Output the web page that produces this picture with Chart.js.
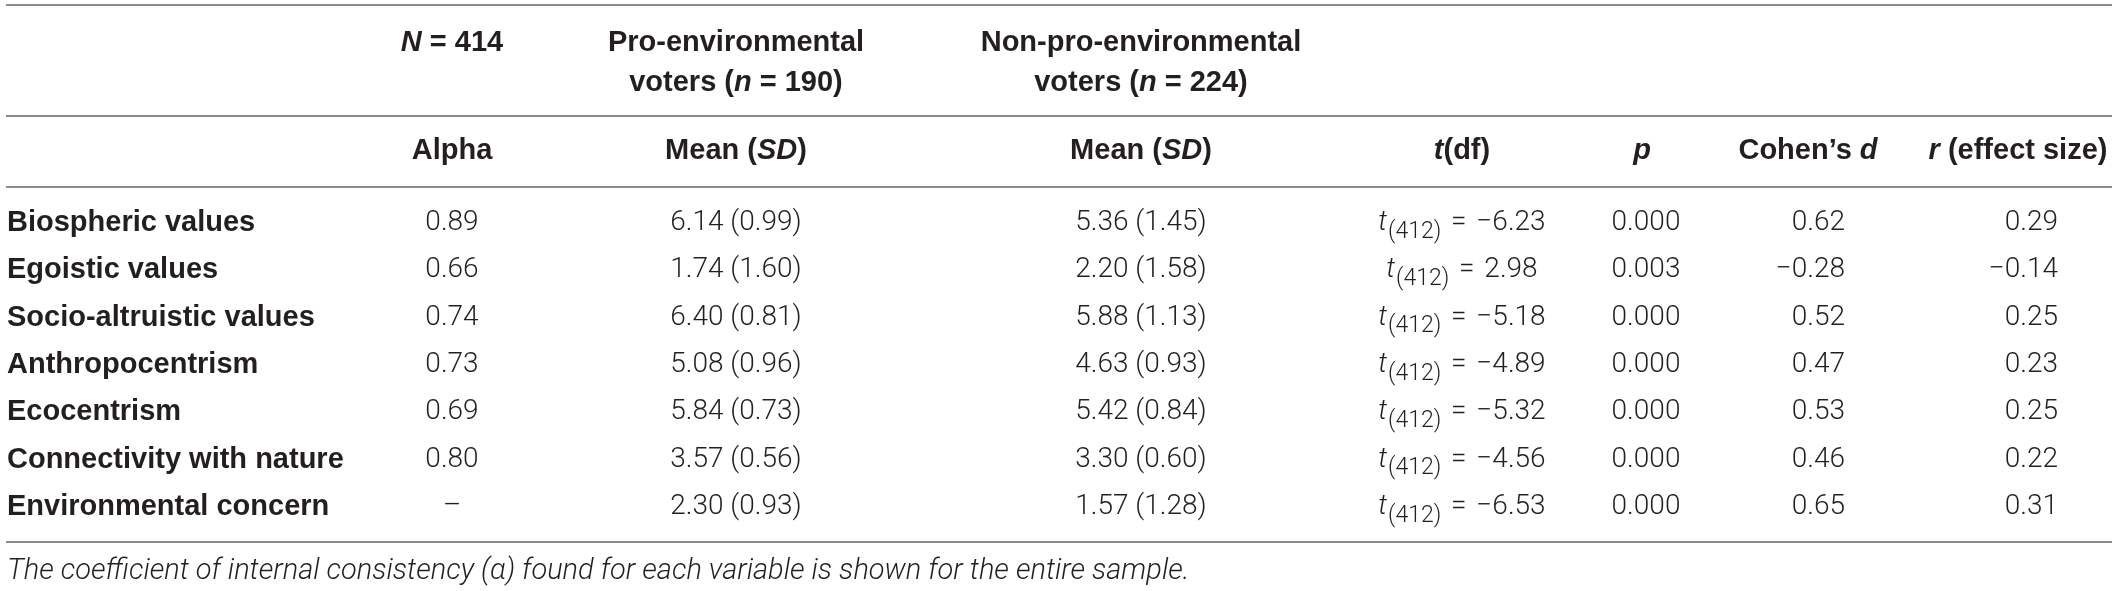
<!DOCTYPE html>
<html>
<head>
<meta charset="utf-8">
<script src="https://cdn.jsdelivr.net/npm/chart.js@4"></script>
<style>
  html, body { margin: 0; padding: 0; background: #ffffff; }
  #wrap { width: 2121px; height: 591px; }
</style>
</head>
<body>
<div id="wrap"><canvas id="c" width="2121" height="591"></canvas></div>
<script>
// ---------------- DATA ----------------
const variables = [
  "Biospheric values",
  "Egoistic values",
  "Socio-altruistic values",
  "Anthropocentrism",
  "Ecocentrism",
  "Connectivity with nature",
  "Environmental concern"
];
const alpha   = [0.89, 0.66, 0.74, 0.73, 0.69, 0.80, null];
const proMean = [6.14, 1.74, 6.40, 5.08, 5.84, 3.57, 2.30];
const proSD   = [0.99, 1.60, 0.81, 0.96, 0.73, 0.56, 0.93];
const nonMean = [5.36, 2.20, 5.88, 4.63, 5.42, 3.30, 1.57];
const nonSD   = [1.45, 1.58, 1.13, 0.93, 0.84, 0.60, 1.28];
const tValue  = [-6.23, 2.98, -5.18, -4.89, -5.32, -4.56, -6.53];
const tDf     = [412, 412, 412, 412, 412, 412, 412];
const pValue  = [0.000, 0.003, 0.000, 0.000, 0.000, 0.000, 0.000];
const cohenD  = [0.62, -0.28, 0.52, 0.47, 0.53, 0.46, 0.65];
const rEffect = [0.29, -0.14, 0.25, 0.23, 0.25, 0.22, 0.31];
const sampleN = 414, proN = 190, nonN = 224;
const footnote = "The coefficient of internal consistency (\u03b1) found for each variable is shown for the entire sample.";

// ---------------- LAYOUT (scale units) ----------------
const colPos = { label: 7, alpha: 452, pro: 736, non: 1141, t: 1462, p: 1646, d: 1845, r: 2058 };
const headPos = { d: 1808, r: 2018, p: 1642 };
const rowPos = { head1a: -3.80, head1b: -2.95, head2: -1.52, foot: 7.37 };
const rulePos = [-4.61, -2.26, -0.76, 6.74];
const ruleX = [6, 2112];

// ---------------- STYLE ----------------
const INK = '#231f20';
const RULE = '#8c8c8c';
const FB  = 'bold 29px "Liberation Sans", Arial, sans-serif';
const FBI = 'italic bold 29px "Liberation Sans", Arial, sans-serif';
const FL  = '300 28px Roboto, "Liberation Sans", sans-serif';
const FLI = 'italic 300 28px Roboto, "Liberation Sans", sans-serif';
const FFOOT = 'italic 300 29px Roboto, "Liberation Sans", sans-serif';
const FSUB = '300 23px Roboto, "Liberation Sans", sans-serif';

const fmt = (v, n) => (v < 0 ? '\u2212' : '') + Math.abs(v).toFixed(n);

function rich(ctx, segs, x, y, align) {
  let w = 0;
  segs.forEach(s => { ctx.font = s.f; s.w = ctx.measureText(s.t).width + (s.gap || 0); w += s.w; });
  let sx = align === 'center' ? x - w / 2 : (align === 'right' ? x - w : x);
  segs.forEach(s => { ctx.font = s.f; ctx.fillText(s.t, sx + (s.pre || 0), y + (s.dy || 0)); sx += s.w; });
}

const cols = ['label', 'alpha', 'pro', 'non', 't', 'p', 'd', 'r'];
const datasets = cols.map(c => ({
  label: c,
  data: variables.map((_, i) => ({ x: colPos[c], y: i })),
  pointRadius: 0,
  pointHoverRadius: 0,
  showLine: false
}));

function cellSegs(c, i) {
  switch (c) {
    case 'label': return [{ t: variables[i], f: FB }];
    case 'alpha': return [{ t: alpha[i] === null ? '\u2013' : fmt(alpha[i], 2), f: FL }];
    case 'pro': return [{ t: fmt(proMean[i], 2) + ' (' + fmt(proSD[i], 2) + ')', f: FL }];
    case 'non': return [{ t: fmt(nonMean[i], 2) + ' (' + fmt(nonSD[i], 2) + ')', f: FL }];
    case 't': return [
      { t: 't', f: FLI, gap: 1 },
      { t: '(' + tDf[i] + ')', f: FSUB, dy: 9 },
      { t: ' = ', f: FL, gap: 6, pre: 3 },
      { t: fmt(tValue[i], 2), f: FL }
    ];
    case 'p': return [{ t: fmt(pValue[i], 3), f: FL }];
    case 'd': return [{ t: fmt(cohenD[i], 2), f: FL }];
    case 'r': return [{ t: fmt(rEffect[i], 2), f: FL }];
  }
}
const colAlign = { label: 'left', alpha: 'center', pro: 'center', non: 'center', t: 'center', p: 'center', d: 'right', r: 'right' };

const tablePlugin = {
  id: 'table',
  afterDatasetsDraw(chart) {
    const ctx = chart.ctx;
    const xs = chart.scales.x, ys = chart.scales.y;
    ctx.save();
    // rules
    ctx.strokeStyle = RULE;
    ctx.lineWidth = 2;
    rulePos.forEach(r => {
      const y = Math.round(ys.getPixelForValue(r));
      ctx.beginPath();
      ctx.moveTo(xs.getPixelForValue(ruleX[0]), y);
      ctx.lineTo(xs.getPixelForValue(ruleX[1]), y);
      ctx.stroke();
    });
    ctx.fillStyle = INK;
    ctx.textBaseline = 'middle';
    ctx.textAlign = 'left';
    // header row 1
    const h1a = ys.getPixelForValue(rowPos.head1a), h1b = ys.getPixelForValue(rowPos.head1b);
    rich(ctx, [{ t: 'N', f: FBI }, { t: ' = ' + sampleN, f: FB }], xs.getPixelForValue(colPos.alpha), h1a, 'center');
    rich(ctx, [{ t: 'Pro-environmental', f: FB }], xs.getPixelForValue(colPos.pro), h1a, 'center');
    rich(ctx, [{ t: 'voters (', f: FB }, { t: 'n', f: FBI }, { t: ' = ' + proN + ')', f: FB }], xs.getPixelForValue(colPos.pro), h1b, 'center');
    rich(ctx, [{ t: 'Non-pro-environmental', f: FB }], xs.getPixelForValue(colPos.non), h1a, 'center');
    rich(ctx, [{ t: 'voters (', f: FB }, { t: 'n', f: FBI }, { t: ' = ' + nonN + ')', f: FB }], xs.getPixelForValue(colPos.non), h1b, 'center');
    // header row 2
    const h2 = ys.getPixelForValue(rowPos.head2);
    rich(ctx, [{ t: 'Alpha', f: FB }], xs.getPixelForValue(colPos.alpha), h2, 'center');
    const meanSD = () => [{ t: 'Mean (', f: FB }, { t: 'SD', f: FBI }, { t: ')', f: FB }];
    rich(ctx, meanSD(), xs.getPixelForValue(colPos.pro), h2, 'center');
    rich(ctx, meanSD(), xs.getPixelForValue(colPos.non), h2, 'center');
    rich(ctx, [{ t: 't', f: FBI }, { t: '(df)', f: FB }], xs.getPixelForValue(colPos.t), h2, 'center');
    rich(ctx, [{ t: 'p', f: FBI }], xs.getPixelForValue(headPos.p), h2, 'center');
    rich(ctx, [{ t: 'Cohen\u2019s ', f: FB }, { t: 'd', f: FBI }], xs.getPixelForValue(headPos.d), h2, 'center');
    rich(ctx, [{ t: 'r', f: FBI }, { t: ' (effect size)', f: FB }], xs.getPixelForValue(headPos.r), h2, 'center');
    // body cells from dataset elements
    chart.data.datasets.forEach((ds, di) => {
      const c = ds.label;
      chart.getDatasetMeta(di).data.forEach((el, i) => {
        rich(ctx, cellSegs(c, i), el.x, el.y, colAlign[c]);
      });
    });
    // footnote
    rich(ctx, [{ t: footnote, f: FFOOT }], xs.getPixelForValue(colPos.label), ys.getPixelForValue(rowPos.foot), 'left');
    ctx.restore();
  }
};

new Chart(document.getElementById('c'), {
  type: 'scatter',
  data: { datasets },
  options: {
    responsive: false,
    animation: false,
    devicePixelRatio: 1,
    layout: { padding: 0 },
    plugins: { legend: { display: false }, tooltip: { enabled: false } },
    events: [],
    scales: {
      x: { type: 'linear', display: false, min: 0, max: 2121 },
      y: { type: 'linear', display: false, min: -4.712, max: 7.775, reverse: true }
    }
  },
  plugins: [tablePlugin]
});
</script>
</body>
</html>
